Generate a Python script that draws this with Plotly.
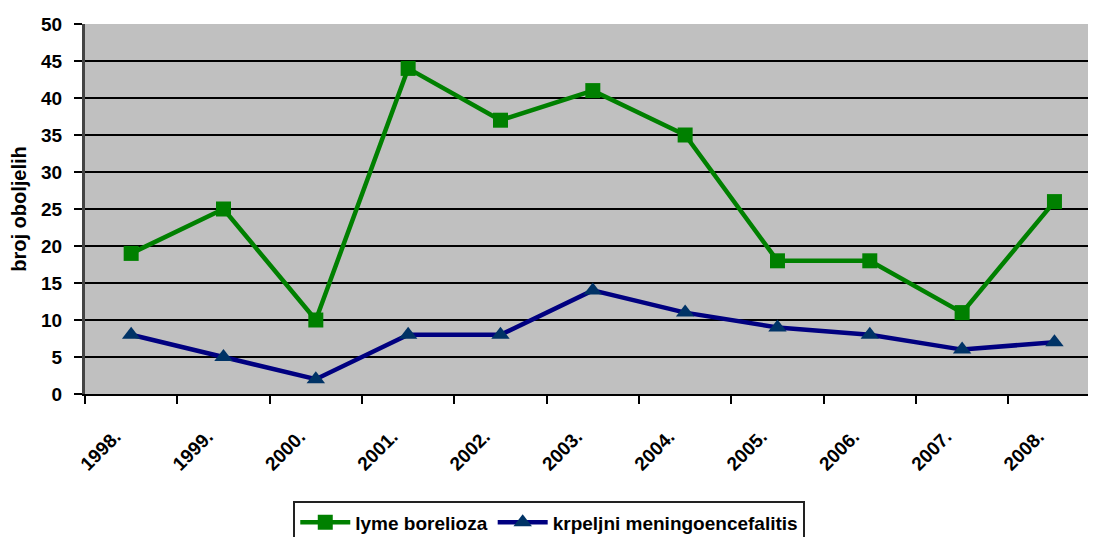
import plotly.graph_objects as go

years = ["1998.", "1999.", "2000.", "2001.", "2002.", "2003.", "2004.", "2005.", "2006.", "2007.", "2008."]
lyme = [19, 25, 10, 44, 37, 41, 35, 18, 18, 11, 26]
kme = [8, 5, 2, 8, 8, 14, 11, 9, 8, 6, 7]
yticks = [0, 5, 10, 15, 20, 25, 30, 35, 40, 45, 50]

FONT = "Liberation Sans, Arial, sans-serif"

fig = go.Figure()
fig.add_trace(go.Scatter(
    x=years, y=lyme, name="lyme borelioza", mode="lines+markers",
    line=dict(color="#008000", width=4.5),
    marker=dict(symbol="square", size=15, color="#008000"),
))
fig.add_trace(go.Scatter(
    x=years, y=kme, name="krpeljni meningoencefalitis", mode="lines+markers",
    line=dict(color="#000080", width=4.5),
    marker=dict(symbol="triangle-up", size=16, color="#003366"),
))

# page body has an 8px margin, so the figure is placed at (8, 8) in the window
fig.update_layout(
    width=1088, height=529,
    margin=dict(l=77, r=0, t=16, b=143, autoexpand=False),
    paper_bgcolor="white", plot_bgcolor="#C0C0C0",
    font=dict(family=FONT, color="black"),
    showlegend=True,
    legend=dict(
        orientation="h", x=0.206, xanchor="left", y=-0.29, yanchor="top",
        bordercolor="#222222", borderwidth=2, bgcolor="white",
        font=dict(size=19, family=FONT, weight="bold"),
        itemwidth=50, tracegroupgap=0,
    ),
    xaxis=dict(
        type="category", range=[-0.5, 10.45], tickson="boundaries",
        ticks="outside", ticklen=8, tickwidth=2, tickcolor="black",
        tickangle=-45, showgrid=False, zeroline=False, automargin=False,
        showline=True, linecolor="black", linewidth=2,
        ticklabelstandoff=22, ticklabelshift=-16,
        tickfont=dict(size=19, family=FONT, weight="bold"),
    ),
    yaxis=dict(
        range=[0, 50], tickvals=yticks, ticks="outside", ticklen=8, tickwidth=2,
        tickcolor="black", showgrid=True, gridcolor="black", gridwidth=2,
        zeroline=False, showline=True, linecolor="#444444", linewidth=3,
        automargin=False, ticklabelstandoff=8,
        tickfont=dict(size=19, family=FONT, weight="bold"),
        title=dict(text="broj oboljelih", standoff=10,
                   font=dict(size=20, family=FONT, weight="bold")),
    ),
)

fig.write_html("out.html")
